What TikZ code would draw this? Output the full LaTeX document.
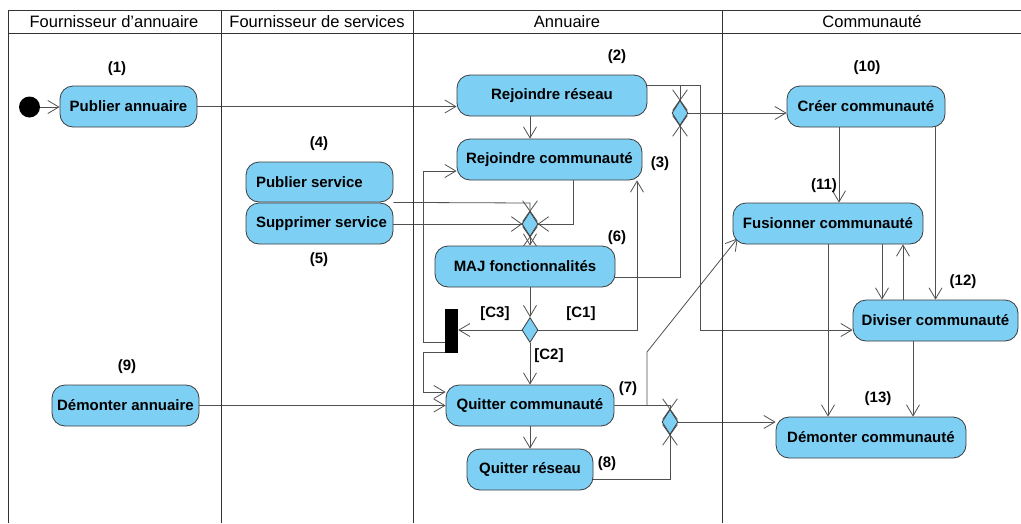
\documentclass[tikz,border=0pt]{standalone}
\usepackage{fontspec}
\setmainfont{Liberation Sans}
\usetikzlibrary{arrows.meta,shapes.geometric,shapes.misc,calc}
\pgfdeclarelayer{bg}
\pgfsetlayers{bg,main}
\definecolor{boxfill}{HTML}{7DCFF4}
\definecolor{edge}{HTML}{3C3C3C}
\definecolor{conn}{HTML}{505050}
\definecolor{lanec}{HTML}{333333}
\tikzset{
 act/.style={draw=edge, fill=boxfill, rounded corners=13pt, minimum height=41pt, inner sep=0pt, font=\fontsize{15}{17}\selectfont\bfseries, line width=0.8pt},
 dia/.style={diamond, draw=edge, fill=boxfill, minimum width=16pt, minimum height=25pt, inner sep=0pt, line width=0.8pt},
 num/.style={font=\fontsize{15}{17}\selectfont\bfseries, inner sep=0pt},
 lanetitle/.style={font=\fontsize{16.5}{19}\selectfont, inner sep=0pt},
 flow/.style={draw=conn, line width=0.8pt},
 arr/.style={flow, -{Straight Barb[length=11pt,width=13pt]}},
 xv/.style={cross out, draw=conn, line width=0.8pt, minimum width=14pt, minimum height=20pt, inner sep=0pt},
 xh/.style={cross out, draw=conn, line width=0.8pt, minimum width=20pt, minimum height=14pt, inner sep=0pt},
 lanes/.style={draw=lanec, line width=0.9pt},
}
\begin{document}
\begin{tikzpicture}[x=1pt,y=-1pt]
\useasboundingbox (0,0) rectangle (1021,523);
% swimlanes
\draw[lanes] (8,523) -- (8,10) -- (1021,10);
\draw[lanes] (8,33) -- (1021,33);
\draw[lanes] (221,10) -- (221,523);
\draw[lanes] (413,10) -- (413,523);
\draw[lanes] (722,10) -- (722,523);
\node[lanetitle] (h1) at (114,21.5) {Fournisseur d'annuaire};
\node[lanetitle] (h2) at (317,21.5) {Fournisseur de services};
\node[lanetitle] (h3) at (567,21.5) {Annuaire};
\node[lanetitle] (h4) at (872,21.5) {Communauté};

% nodes
\node[circle, fill=black, minimum size=21pt, inner sep=0pt] (init) at (29.5,107) {};
\node[act, minimum width=137pt] (pa) at (128.5,106.5) {Publier annuaire};
\node[act, minimum width=190pt] (rr) at (552,95.5) {Rejoindre réseau};
\node[act, minimum width=185pt] (rc) at (549.5,159.5) {Rejoindre communauté};
\node[act, minimum width=147pt, minimum height=40pt] (ps) at (319.5,182) {\makebox[127pt][l]{Publier service}};
\node[act, minimum width=147pt] (ss) at (319.5,223.5) {\makebox[127pt][l]{Supprimer service}};
\node[act, minimum width=180pt] (maj) at (525,266.5) {MAJ fonctionnalités};
\node[act, minimum width=168pt] (qc) at (530,405.5) {Quitter communauté};
\node[act, minimum width=126pt] (qr) at (530,469.5) {Quitter réseau};
\node[act, minimum width=147pt] (da) at (125.5,405.5) {Démonter annuaire};
\node[act, minimum width=158pt] (cc) at (866,106.5) {Créer communauté};
\node[act, minimum width=190pt] (fc) at (828,223.5) {Fusionner communauté};
\node[act, minimum width=165pt] (dv) at (935.5,320.5) {Diviser communauté};
\node[act, minimum width=190pt] (dc) at (871,437.5) {Démonter communauté};
\node[dia] (d1) at (680,113) {};
\node[dia] (d2) at (530,224) {};
\node[dia] (d3) at (530,330) {};
\node[dia] (d4) at (670,422) {};
\node[fill=black, minimum width=13pt, minimum height=44pt, inner sep=0pt] (bar) at (451.5,331) {};

% labels
\node[num] (n1) at (117,69) {(1)};
\node[num] (n2) at (617,57) {(2)};
\node[num] (n3) at (660,164) {(3)};
\node[num] (n4) at (319,144) {(4)};
\node[num] (n5) at (319,260) {(5)};
\node[num] (n6) at (617,238) {(6)};
\node[num] (n7) at (628,389) {(7)};
\node[num] (n8) at (607,464) {(8)};
\node[num] (n9) at (127,367) {(9)};
\node[num] (n10) at (867,68) {(10)};
\node[num] (n11) at (824,186) {(11)};
\node[num] (n12) at (963,282) {(12)};
\node[num] (n13) at (878,399) {(13)};
\node[num] (c3) at (495,314) {[C3]};
\node[num] (c1) at (581,314) {[C1]};
\node[num] (c2) at (549,356) {[C2]};

% coordinates of bends
\coordinate (k1) at (700,85);
\coordinate (k2) at (700,330);
\coordinate (k3) at (637,330);
\coordinate (k4) at (573,224);
\coordinate (k5) at (423,171);
\coordinate (k6) at (423,342);
\coordinate (k7) at (423,352);
\coordinate (k8) at (423,392);
\coordinate (k9) at (647,405.5);
\coordinate (k10) at (647,352);
\coordinate (k11) at (680,277);
\coordinate (k12) at (670,479);
\coordinate (k13) at (530,203);

\begin{pgfonlayer}{bg}
\draw[arr] (init.east) -- (pa.west |- init.east);
\draw[arr] (pa.east) -- (rr.west |- pa.east);
\draw[arr] (rr.south -| d2) -- (rc.north -| d2);
\draw[arr] (rr.east |- k1) -- (k1) -- (k2) -- (dv.west |- k2);
\draw[flow] (d1.north |- k1) -- (d1.north);
\node[xv] (x1) at (d1.north) {};
\draw[arr] (d1.east) -- (cc.west |- d1.east);
\draw[flow] (maj.east |- k11) -- (k11) -- (d1.south);
\node[xv] (x2) at (d1.south) {};
\draw[flow] (ps.south east) -- (k13) -- (d2.north);
\node[xv] (x3) at (d2.north) {};
\draw[flow] (ss.east |- d2) -- (d2.west);
\node[xh] (x4) at (d2.west) {};
\draw[flow] (rc.south -| k4) -- (k4) -- (d2.east);
\node[xh] (x5) at (d2.east) {};
\draw[arr] (d2.south) -- (maj.north -| d2);
\node[xv] (x6) at (d2.south) {};
\draw[arr] (maj.south -| d3) -- (d3.north);
\draw[arr] (d3.west) -- (bar.east |- d3);
\draw[arr] (d3.east) -- (k3) -- (rc.south -| k3);
\draw[arr] (d3.south) -- (qc.north -| d3);
\draw[arr] (bar.west |- k6) -- (k6) -- (k5) -- (rc.west |- k5);
\draw[arr] (bar.west |- k7) -- (k7) -- (k8) -- (qc.west |- k8);
\draw[arr] (da.east) -- (qc.west |- da.east);
\draw[arr] (qc.south) -- (qr.north);
\draw[arr] (qc.east) -- (k9) -- (k10) -- ($(fc.south west)+(5,-6)$);
\draw[flow] (k9) -- (d4.north |- qc.east) -- (d4.north);
\node[xv] (x7) at (d4.north) {};
\draw[flow] (qr.east |- k12) -- (k12) -- (d4.south);
\node[xv] (x8) at (d4.south) {};
\draw[arr] (d4.east) -- (dc.west |- d4.east);
\draw[arr] (cc.south -| fc.south) ++(11,0) coordinate (k14) -- (fc.north -| k14);
\draw[arr] (cc.south -| dv.north) coordinate (k15) -- (dv.north);
\draw[arr] ($(fc.south)+(54,0)$) coordinate (k16) -- (dv.north -| k16);
\draw[arr] ($(dv.north)+(-32.5,0)$) coordinate (k17) -- (fc.south -| k17);
\draw[arr] (fc.south) -- (dc.north -| fc.south);
\draw[arr] ($(dv.south)+(-22.5,0)$) coordinate (k18) -- (dc.north -| k18);
\end{pgfonlayer}
\end{tikzpicture}
\end{document}
